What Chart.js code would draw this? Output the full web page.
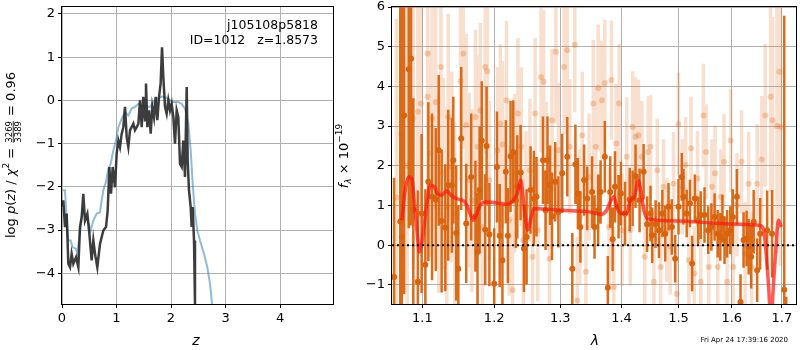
<!DOCTYPE html>
<html>
<head>
<meta charset="utf-8">
<script src="https://cdn.jsdelivr.net/npm/chart.js@4/dist/chart.umd.min.js"></script>
<style>
body{margin:0;background:#fff}
#wrap{position:relative;width:800px;height:350px}
canvas{position:absolute;left:0;top:0}
</style>
</head>
<body>
<div id="wrap">
<canvas id="pz" width="800" height="350"></canvas>
<canvas id="spec" width="800" height="350"></canvas>
</div>
<script>
// left panel: log p(z)
let darkZ = [0.012,0.024,0.055,0.086,0.116,0.147,0.177,0.208,0.257,0.300,
    0.330,0.361,0.391,0.422,0.465,0.502,0.544,0.575,0.606,0.648,
    0.697,0.758,0.807,0.838,0.869,0.899,0.930,0.972,1.003,1.034,
    1.064,1.095,1.125,1.156,1.187,1.217,1.248,1.278,1.309,1.339,
    1.370,1.401,1.431,1.462,1.492,1.523,1.541,1.566,1.596,1.627,
    1.657,1.688,1.719,1.749,1.780,1.810,1.835,1.859,1.890,1.920,
    1.951,1.982,2.012,2.043,2.073,2.104,2.134,2.165,2.196,2.226,
    2.257,2.288,2.306,2.330,2.361,2.379,2.398,2.422,2.440,2.471];
let darkLogP = [-2.47,-2.31,-2.93,-2.62,-3.78,-3.86,-3.55,-3.78,-3.63,-3.86,
    -2.93,-2.70,-2.16,-2.78,-2.62,-3.09,-3.70,-3.24,-3.55,-3.86,
    -3.32,-3.01,-2.93,-2.55,-1.54,-2.16,-1.54,-2.01,-1.23,-0.93,
    -1.08,-0.77,-0.62,-0.15,-0.85,-1.08,-0.69,-0.62,-0.54,-0.69,
    -0.62,-0.54,0.00,-0.62,0.08,-0.46,0.39,-0.62,-0.23,-0.77,
    -0.15,-0.39,0.08,-0.46,0.08,0.39,1.23,0.54,-0.15,-0.31,
    0.00,-0.23,-0.08,-0.39,-1.00,-0.23,-0.39,-1.47,-1.54,-0.93,
    -1.77,0.31,-1.39,-2.08,-2.47,-2.93,-2.47,-3.24,-4.70,-7.00];
let blueZ = [0.012,0.055,0.086,0.116,0.159,0.196,0.257,0.281,0.330,0.379,
    0.440,0.483,0.526,0.575,0.636,0.697,0.728,0.758,0.807,0.850,
    0.893,0.942,0.991,1.034,1.095,1.156,1.217,1.278,1.339,1.401,
    1.462,1.553,1.615,1.676,1.737,1.829,1.920,1.982,2.043,2.134,
    2.196,2.257,2.318,2.361,2.398,2.440,2.483,2.532,2.605,2.666,
    2.715,2.752,2.838];
let blueLogP = [-2.08,-2.08,-2.78,-3.24,-3.24,-3.40,-3.43,-3.55,-3.01,-2.55,
    -2.70,-2.82,-3.01,-2.78,-2.62,-2.59,-2.31,-2.08,-1.89,-1.58,
    -1.47,-1.16,-0.93,-0.62,-0.42,-0.27,-0.35,-0.19,-0.15,-0.08,
    -0.12,-0.15,-0.15,-0.04,0.04,0.09,0.06,0.00,-0.04,-0.04,
    -0.08,-0.19,-0.54,-1.16,-1.93,-2.62,-3.01,-3.24,-3.55,-3.86,
    -4.24,-4.70,-5.60];

// right panel: spectrum
let lamDark = [1.063,1.071,1.073,1.076,1.082,1.085,1.088,1.094,1.099,1.104,
    1.108,1.113,1.118,1.122,1.126,1.131,1.135,1.140,1.142,1.146,
    1.149,1.153,1.160,1.167,1.173,1.176,1.179,1.182,1.187,1.189,
    1.193,1.200,1.204,1.208,1.212,1.217,1.220,1.224,1.228,1.232,
    1.234,1.239,1.244,1.248,1.254,1.259,1.263,1.273,1.277,1.280,
    1.284,1.287,1.292,1.297,1.303,1.311,1.319,1.324,1.328,1.332,
    1.338,1.343,1.351,1.355,1.361,1.365,1.372,1.377,1.381,1.385,
    1.389,1.395,1.399,1.406,1.414,1.419,1.424,1.431,1.438,1.444,
    1.450,1.453,1.459,1.465,1.471,1.476,1.482,1.488,1.494,1.500,
    1.506,1.509,1.515,1.521,1.525,1.530,1.536,1.541,1.548,1.555,
    1.561,1.567,1.573,1.578,1.582,1.586,1.591,1.597,1.602,1.610,
    1.617,1.623,1.629,1.633,1.638,1.643,1.650,1.656,1.670,1.680,
    1.705,1.709];
let fluxDark = [-0.80,0.60,0.20,3.27,4.43,4.70,0.90,-0.92,0.80,-0.49,
    1.60,1.22,1.15,2.39,0.61,0.44,1.51,1.51,2.14,0.31,
    -0.59,2.69,0.55,1.72,0.73,-0.17,1.39,2.63,0.39,2.50,
    0.27,-0.97,1.97,0.24,-0.38,1.85,0.24,2.24,2.35,1.13,
    1.47,1.83,-0.08,0.21,1.39,1.18,1.22,2.14,0.88,2.14,
    1.51,0.73,1.60,0.84,1.81,2.23,-0.59,2.04,1.30,0.46,
    1.64,1.18,1.34,0.46,0.88,1.34,2.23,-1.07,1.34,0.15,
    1.47,0.97,1.30,0.80,1.15,1.18,1.74,1.13,1.85,0.53,
    0.80,0.25,0.53,0.38,0.80,0.29,0.97,0.46,-0.34,0.97,
    1.72,1.22,0.80,1.05,-0.46,1.18,0.63,0.76,0.76,0.38,
    0.46,0.71,0.29,0.21,0.67,0.13,0.29,0.38,0.71,1.22,
    -1.43,0.13,0.17,-0.04,-0.29,0.59,-0.63,0.29,0.38,0.29,
    -1.12,-2.40];
let errDark = [2.5,6.5,6.5,4.5,4.0,4.2,2.8,2.3,2.0,1.9,
    2.0,2.1,1.8,1.9,1.8,1.6,1.9,1.7,1.6,1.7,
    1.6,1.8,1.5,1.6,1.4,1.5,1.6,1.5,1.4,1.5,
    1.3,1.4,1.4,1.3,1.4,1.3,1.2,1.4,1.3,1.2,
    1.3,1.2,1.1,1.2,1.1,1.2,1.0,1.1,1.0,1.1,
    1.0,1.1,1.0,0.9,1.0,1.0,0.9,1.0,0.9,0.9,
    0.9,0.8,0.9,0.8,0.9,0.8,0.9,0.8,0.9,0.8,
    0.9,0.8,0.8,0.8,0.8,0.7,0.8,0.8,0.7,0.7,
    0.7,0.7,0.6,0.7,0.6,0.7,0.6,0.7,0.6,0.7,
    0.6,0.7,0.6,0.6,0.7,0.6,0.6,0.6,0.7,0.6,
    0.6,0.6,0.6,0.6,0.6,0.6,0.6,0.6,0.7,0.7,
    0.7,0.7,0.7,0.7,0.8,0.8,0.8,0.9,1.0,1.1,
    6.9,1.1];
let lamLight = [1.066,1.072,1.080,1.088,1.094,1.098,1.107,1.107,1.111,1.113,
    1.118,1.122,1.125,1.128,1.133,1.135,1.140,1.144,1.152,1.156,
    1.160,1.164,1.168,1.173,1.176,1.180,1.183,1.187,1.190,1.193,
    1.205,1.209,1.212,1.218,1.222,1.227,1.230,1.235,1.240,1.243,
    1.247,1.253,1.257,1.261,1.265,1.270,1.274,1.278,1.283,1.287,
    1.293,1.297,1.306,1.311,1.315,1.323,1.327,1.331,1.335,1.341,
    1.346,1.353,1.357,1.361,1.367,1.372,1.379,1.383,1.387,1.391,
    1.396,1.401,1.409,1.415,1.419,1.424,1.429,1.435,1.440,1.446,
    1.450,1.456,1.462,1.468,1.473,1.479,1.485,1.491,1.497,1.500,
    1.507,1.513,1.519,1.523,1.529,1.535,1.541,1.546,1.551,1.556,
    1.562,1.568,1.573,1.579,1.585,1.591,1.598,1.603,1.610,1.619,
    1.626,1.633,1.639,1.650,1.659,1.666,1.677,1.681,1.690,1.695,
    1.697];
let fluxLight = [1.20,2.80,2.00,3.20,3.36,3.57,4.83,3.74,2.31,3.19,
    3.61,1.30,4.49,1.81,0.97,3.23,1.97,0.80,4.13,4.83,
    3.02,1.64,1.13,3.23,2.48,3.40,0.46,4.49,4.38,1.64,
    2.39,3.06,2.54,3.65,0.63,-1.13,1.81,3.32,2.48,0.13,
    0.97,1.89,-0.29,3.32,0.38,4.24,4.12,1.81,-0.34,3.15,
    4.87,2.39,4.49,4.91,2.48,5.05,-1.39,0.71,2.77,-0.67,
    1.72,3.57,2.48,3.96,3.65,4.08,0.46,4.16,-1.05,2.56,
    3.57,0.38,2.23,0.38,2.98,2.73,2.77,2.23,-0.29,2.35,
    2.48,-0.92,1.89,-0.55,1.47,0.38,-0.04,1.55,-1.22,3.05,
    1.47,2.03,-0.38,2.44,-0.71,1.68,-0.92,3.27,2.35,-0.55,
    1.47,1.81,-0.55,1.22,2.10,-0.92,2.64,-0.55,1.02,2.10,
    -0.21,1.55,-0.55,1.55,2.16,3.27,3.74,3.15,3.00,4.37,
    2.98];
let errLight = [4.5,5.0,4.0,3.8,3.0,3.0,3.2,2.8,2.6,2.8,
    2.7,2.5,2.6,2.4,2.5,2.6,2.4,2.3,2.5,2.4,
    2.3,2.2,2.3,2.2,2.3,2.2,2.1,2.2,2.2,2.0,
    2.1,2.0,2.1,2.0,1.9,1.9,2.0,1.9,2.0,1.8,
    1.9,1.8,1.8,1.9,1.8,1.9,1.8,1.8,1.7,1.8,
    1.8,1.7,1.7,1.8,1.7,1.7,1.6,1.7,1.6,1.6,
    1.6,1.6,1.5,1.6,1.5,1.6,1.5,1.5,1.5,1.5,
    1.5,1.4,1.5,1.4,1.4,1.5,1.4,1.4,1.3,1.4,
    1.3,1.3,1.3,1.3,1.2,1.3,1.2,1.3,1.2,1.3,
    1.2,1.2,1.2,1.3,1.2,1.2,1.2,1.3,1.2,1.2,
    1.2,1.2,1.2,1.2,1.2,1.2,1.3,1.2,1.3,1.3,
    1.3,1.3,1.4,1.5,1.6,1.8,2.4,2.6,3.2,3.5,
    3.5];
let modelLam = [1.073,1.078,1.082,1.086,1.090,1.094,1.096,1.101,1.106,1.111,
    1.116,1.120,1.126,1.133,1.137,1.143,1.151,1.158,1.163,1.170,
    1.173,1.180,1.187,1.196,1.208,1.218,1.228,1.234,1.239,1.242,
    1.245,1.250,1.255,1.259,1.265,1.303,1.346,1.367,1.375,1.383,
    1.387,1.393,1.400,1.409,1.415,1.422,1.429,1.433,1.438,1.444,
    1.500,1.561,1.617,1.656,1.663,1.668,1.673,1.678,1.682,1.688,
    1.693,1.699];
let modelFlux = [0.63,1.47,1.72,1.68,0.97,0.13,-0.17,0.29,1.05,1.51,
    1.47,1.30,1.26,1.37,1.30,1.20,1.15,1.09,0.92,0.63,
    0.71,1.01,1.09,1.08,1.05,1.03,1.13,1.30,1.64,1.34,
    0.84,0.38,0.71,0.92,0.92,0.88,0.84,0.78,0.88,1.15,
    1.22,0.92,0.80,0.81,1.13,1.22,1.64,1.39,0.92,0.67,
    0.61,0.56,0.53,0.50,0.38,-0.21,-1.05,-1.95,-1.15,-0.04,
    0.63,0.46];
let lamTicks = [1.1,1.2,1.3,1.4,1.5,1.6,1.7];

const font = "DejaVu Sans";
Chart.defaults.font.family = font;
Chart.defaults.font.size = 13;
Chart.defaults.color = "#000";
Chart.defaults.animation = false;

function minus(v){
    return v < 0 ? "\u2212" + Math.abs(v) : "" + v;
}

function pairs(xs, ys){
    let out = [];
    for (let i = 0; i < xs.length; i++) out.push({x: xs[i], y: ys[i]});
    return out;
}

function errSegments(xs, ys, es){
    let out = [];
    for (let i = 0; i < xs.length; i++){
        out.push({x: xs[i], y: ys[i] - es[i]}, {x: xs[i], y: ys[i] + es[i]}, {x: xs[i], y: null});
    }
    return out;
}

// no extra room for overflowing tick labels, layout padding decides
function noPad(s){
    s.paddingTop = 0; s.paddingBottom = 0; s.paddingLeft = 0; s.paddingRight = 0;
}

const frame = {
    id: "frame",
    afterDraw(chart){
        let a = chart.chartArea, c = chart.ctx;
        c.save();
        c.strokeStyle = "#000";
        c.lineWidth = 1;
        c.strokeRect(Math.round(a.left) - 0.5, Math.round(a.top) - 0.5,
            Math.round(a.right - a.left) + 1, Math.round(a.bottom - a.top) + 1);
        c.restore();
    }
};

// draws text parts one after another: [text, font, dy]
function drawParts(c, parts, cx, cy){
    let total = 0;
    parts.forEach(p => { c.font = p[1]; p.w = p.frac ? Math.max(c.measureText(p[0]).width, c.measureText(p.frac).width) + 2 : c.measureText(p[0]).width; total += p.w; });
    let x = cx - total / 2;
    parts.forEach(p => {
        c.font = p[1];
        if (p.frac){
            c.textAlign = "center";
            c.fillText(p[0], x + p.w / 2, cy - 3.5);
            c.fillText(p.frac, x + p.w / 2, cy + 5.5);
            c.fillRect(x + 1, cy - 2.2, p.w - 2, 0.8);
            c.textAlign = "left";
        } else {
            c.fillText(p[0], x, cy + p[2]);
        }
        x += p.w;
    });
}

const pzText = {
    id: "pzText",
    afterDraw(chart){
        let c = chart.ctx;
        c.save();
        c.fillStyle = "#000";
        c.font = "12.5px " + font;
        c.textAlign = "right";
        c.fillText("j105108p5818", 318, 29);
        c.fillText("ID=1012   z=1.8573", 318, 44);
        c.textAlign = "center";
        c.font = "italic 14px " + font;
        c.fillText("z", 196, 345);
        c.translate(15, 155);
        c.rotate(-Math.PI / 2);
        c.textAlign = "left";
        let N = "13px " + font, I = "italic 13px " + font, S = "9px " + font;
        let fr = ["3269", "8.5px " + font, 0];
        fr.frac = "3389";
        drawParts(c, [["log ", N, 0], ["p", I, 0], ["(", N, 0], ["z", I, 0], [") / ", N, 0],
            ["\u03c7", I, 0], ["2", S, -6], [" = ", N, 0], fr, [" = 0.96", N, 0]], 0, 0);
        c.restore();
    }
};

const specText = {
    id: "specText",
    afterDraw(chart){
        let c = chart.ctx;
        c.save();
        c.fillStyle = "#000";
        c.textAlign = "center";
        c.font = "italic 14px " + font;
        c.fillText("\u03bb", 595, 345);
        c.font = "7px " + font;
        c.textAlign = "right";
        c.fillText("Fri Apr 24 17:39:16 2020", 788, 342);
        c.translate(348, 156);
        c.rotate(-Math.PI / 2);
        c.textAlign = "left";
        let N = "13px " + font, I = "italic 13px " + font;
        drawParts(c, [["f", I, 0], ["\u03bb", "italic 9px " + font, 3], [" \u00d7 10", N, 0], ["\u221219", "9px " + font, -6]], 0, 0);
        c.restore();
    }
};

const gridStyle = {color: "#b0b0b0", lineWidth: 1, tickColor: "#000", tickLength: 4};

new Chart("pz", {
    type: "line",
    data: {
        datasets: [
            {data: pairs(darkZ, darkLogP), borderColor: "rgba(40,40,40,0.9)", borderWidth: 2.5, pointRadius: 0, tension: 0, order: 0, clip: 0},
            {data: pairs(blueZ, blueLogP), borderColor: "rgba(31,119,180,0.5)", borderWidth: 2, pointRadius: 0, tension: 0, order: 1, clip: 0}
        ]
    },
    options: {
        responsive: false,
        layout: {padding: {top: 7, right: 467, left: 0, bottom: 0}},
        plugins: {legend: {display: false}, tooltip: {enabled: false}},
        scales: {
            x: {type: "linear", min: 0, max: 4.972,
                grid: gridStyle, border: {display: false},
                ticks: {stepSize: 1, includeBounds: false, maxRotation: 0, padding: 3, callback: v => minus(v)},
                afterFit: s => { s.height = 46; noPad(s); }},
            y: {type: "linear", min: -4.71, max: 2.16,
                grid: gridStyle, border: {display: false},
                ticks: {stepSize: 1, includeBounds: false, padding: 3, callback: v => minus(v)},
                afterFit: s => { s.width = 62; noPad(s); }}
        }
    },
    plugins: [frame, pzText]
});

new Chart("spec", {
    type: "line",
    data: {
        datasets: [
            {data: [{x: 1.0603, y: 0}, {x: 1.7294, y: 0}], borderColor: "#000", borderWidth: 2, borderDash: [2, 3], pointRadius: 0, order: 0},
            {data: pairs(modelLam, modelFlux), borderColor: "rgba(255,20,10,0.7)", borderWidth: 3.5, pointRadius: 0, cubicInterpolationMode: "monotone", order: 1, clip: 0},
            {data: pairs(lamDark, fluxDark), showLine: false, pointRadius: 3, pointBorderWidth: 0, pointBackgroundColor: "rgb(217,100,14)", order: 2, clip: 0},
            {data: errSegments(lamDark, fluxDark, errDark), borderColor: "rgba(217,100,14,0.95)", borderWidth: 2.5, borderCapStyle: "butt", pointRadius: 0, spanGaps: false, order: 3, clip: 0},
            {data: pairs(lamLight, fluxLight), showLine: false, pointRadius: 3, pointBorderWidth: 0, pointBackgroundColor: "rgba(225,110,30,0.3)", order: 4, clip: 0},
            {data: errSegments(lamLight, fluxLight, errLight), borderColor: "rgba(225,110,30,0.22)", borderWidth: 3.5, borderCapStyle: "butt", pointRadius: 0, spanGaps: false, order: 5, clip: 0}
        ]
    },
    options: {
        responsive: false,
        layout: {padding: {top: 7, right: 1, left: 0, bottom: 0}},
        plugins: {legend: {display: false}, tooltip: {enabled: false}},
        scales: {
            x: {type: "logarithmic", min: 1.0603, max: 1.7294,
                grid: gridStyle, border: {display: false},
                afterBuildTicks: s => { s.ticks = lamTicks.map(v => ({value: v})); },
                ticks: {autoSkip: false, maxRotation: 0, padding: 3, callback: v => Number(v).toFixed(1)},
                afterFit: s => { s.height = 46; noPad(s); }},
            y: {type: "linear", min: -1.48, max: 6,
                grid: gridStyle, border: {display: false},
                ticks: {stepSize: 1, includeBounds: false, padding: 3, callback: v => minus(v)},
                afterFit: s => { s.width = 392; noPad(s); }}
        }
    },
    plugins: [frame, specText]
});
</script>
</body>
</html>
